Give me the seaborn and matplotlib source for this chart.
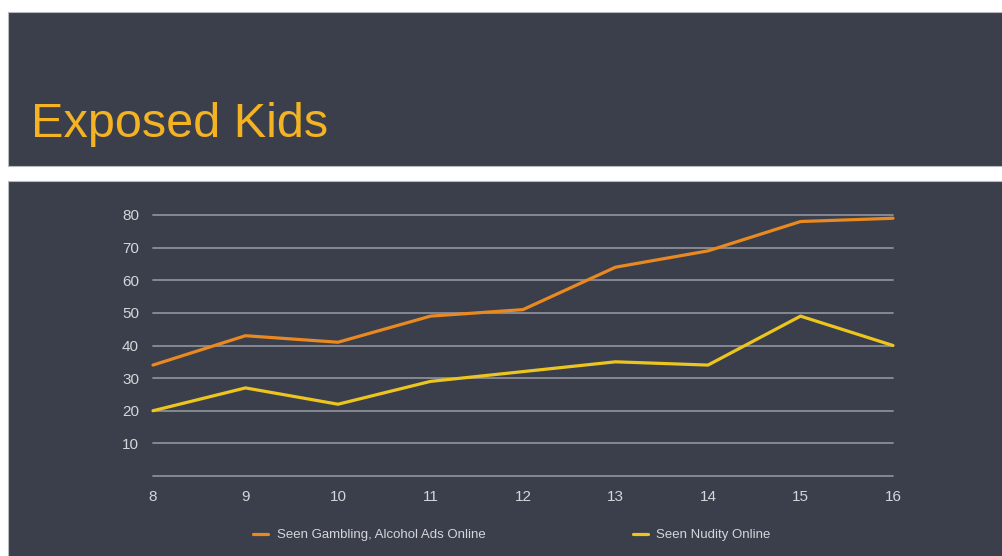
import numpy as np
import pandas as pd
import seaborn as sns
import matplotlib
matplotlib.use("Agg")
import matplotlib.pyplot as plt
from matplotlib.patches import Rectangle
from matplotlib.lines import Line2D

ages = [8, 9, 10, 11, 12, 13, 14, 15, 16]
gambling_alcohol = [34, 43, 41, 49, 51, 64, 69, 78, 79]
nudity = [20, 27, 22, 29, 32, 35, 34, 49, 40]
series_names = ["Seen Gambling, Alcohol Ads Online", "Seen Nudity Online"]
y_ticks = [0, 10, 20, 30, 40, 50, 60, 70, 80]
title_text = "Exposed Kids"

BG = "#3b3f4c"
GRID = "#8b8e97"
TEXT = "#d5d6da"
ORANGE = "#e9891f"
YELLOW = "#ecc51e"
TITLE = "#f4b322"

df = pd.DataFrame({
    "age": ages * 2,
    "pct": gambling_alcohol + nudity,
    "series": [series_names[0]] * len(ages) + [series_names[1]] * len(ages),
})

sns.set_theme(style="white")
plt.rcParams["font.family"] = ["Liberation Sans", "DejaVu Sans"]

W, H = 1003, 556
fig = plt.figure(figsize=(W / 100, H / 100), dpi=100, facecolor="white")

# header band and chart panel
fig.add_artist(Rectangle((8 / W, 1 - 166 / H), 1, (166 - 12) / H, transform=fig.transFigure,
                         facecolor=BG, edgecolor="#b8b9bd", linewidth=0.8, zorder=0))
fig.add_artist(Rectangle((8 / W, -0.01), 1, 0.01 + (H - 181) / H, transform=fig.transFigure,
                         facecolor=BG, edgecolor="#b8b9bd", linewidth=0.8, zorder=0))

fig.text(31 / W, 1 - 137 / H, title_text, color=TITLE, fontsize=35,
         va="baseline", ha="left")

ax = fig.add_axes([153 / W, (H - 476) / H, (893 - 153) / W, (476 - 215) / H])
ax.set_facecolor("none")

sns.lineplot(data=df, x="age", y="pct", hue="series", palette=[ORANGE, YELLOW],
             linewidth=2.3, ax=ax, legend=False, zorder=3, clip_on=False)

ax.set_xlim(ages[0], ages[-1])
ax.set_ylim(0, 80)
ax.set_xticks(ages)
ax.set_xticklabels([str(a) for a in ages])
ax.set_yticks(y_ticks)
ax.set_yticklabels(["" if v == 0 else str(v) for v in y_ticks])
for v in y_ticks:
    ax.axhline(v, color=GRID, linewidth=1.3, zorder=1, clip_on=False)
for s in ax.spines.values():
    s.set_visible(False)
ax.tick_params(axis="both", length=0, colors=TEXT, labelsize=11)
ax.tick_params(axis="x", pad=10)
ax.tick_params(axis="y", pad=10)
ax.set_xlabel("")
ax.set_ylabel("")

handles = [Line2D([], [], color=ORANGE, linewidth=2.3),
           Line2D([], [], color=YELLOW, linewidth=2.3)]
leg = fig.legend(handles, series_names, loc="center", bbox_to_anchor=(512 / W, 1 - 535 / H),
                 ncol=2, frameon=False, fontsize=9.5, handlelength=1.1, handletextpad=0.65,
                 columnspacing=11.2, labelcolor=TEXT)

fig.savefig("out.png", dpi=100, facecolor="white")
